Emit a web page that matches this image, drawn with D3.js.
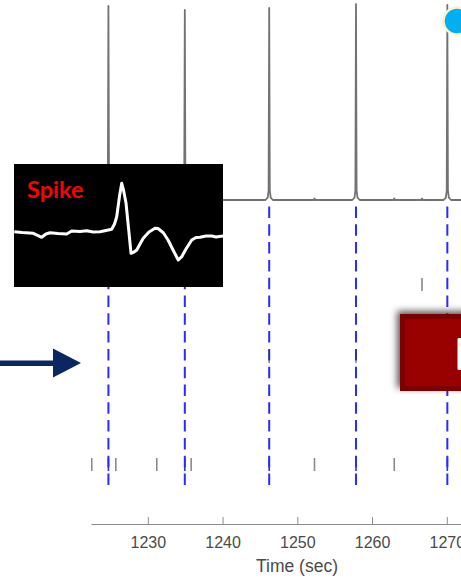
<!DOCTYPE html>
<html>
<head>
<meta charset="utf-8">
<script src="https://cdn.jsdelivr.net/npm/d3@7"></script>
<style>
  body { margin: 0; background: #fff; }
  svg { display: block; }
</style>
</head>
<body>
<svg id="chart"></svg>
<script>
var width = 461, height = 579;

// spike times (sec) and the recorded trace as [time, normalised amplitude]
var spikeTimes = [1224.73, 1234.95, 1246.24, 1257.85, 1270.07];
var trace = [
  [1222.4, 0],
  [1224.23, 0], [1224.53, 0.012], [1224.65, 0.05], [1224.73, 0.995], [1224.81, 0.05], [1224.93, 0.012], [1225.23, 0],
  [1234.45, 0], [1234.75, 0.012], [1234.87, 0.05], [1234.95, 0.975], [1235.03, 0.05], [1235.15, 0.012], [1235.45, 0],
  [1245.74, 0], [1246.04, 0.012], [1246.16, 0.05], [1246.24, 0.985], [1246.32, 0.05], [1246.44, 0.012], [1246.74, 0],
  [1252.2, 0], [1252.3, 0.008], [1252.4, 0],
  [1257.35, 0], [1257.65, 0.012], [1257.77, 0.05], [1257.85, 1.005], [1257.93, 0.05], [1258.05, 0.012], [1258.35, 0],
  [1262.87, 0], [1262.97, 0.008], [1263.07, 0],
  [1266.58, 0], [1266.68, 0.008], [1266.78, 0],
  [1269.57, 0], [1269.87, 0.012], [1269.99, 0.05], [1270.07, 1.0], [1270.15, 0.05], [1270.27, 0.012], [1270.57, 0],
  [1280, 0]
];

// raster rows and the events in each
var rasterRows = [1, 2, 3, 4, 5, 6];
var row1Events = [1266.68];
var row3Events = [1246.24, 1257.85];
var row6Events = [1222.5, 1225.72, 1231.2, 1235.8, 1252.3, 1262.97];

// x axis ticks
var xTicks = [1230, 1240, 1250, 1260, 1270];

// inset spike waveform (ms, uV)
var waveT = [0, 0.074, 0.182, 0.262, 0.303, 0.342, 0.418, 0.501, 0.549, 0.629, 0.693, 0.753, 0.82, 0.878,
  0.932, 0.959, 0.98, 1.007, 1.028, 1.045, 1.069, 1.093, 1.117, 1.146, 1.172, 1.203, 1.234, 1.289, 1.347,
  1.375, 1.426, 1.471, 1.519, 1.569, 1.602, 1.643, 1.698, 1.739, 1.777, 1.834, 1.889, 1.931, 1.959, 2.0];
var waveV = [0.6, -1, -2.6, -10.6, -4, -1.4, -3, -4, 2, 1, 2.6, 0, 0.6, 3,
  5.4, 16, 30.6, 72, 97.4, 84, 58, 8, -42.6, -40, -36, -24, -12.6, 0, 7.4,
  7, -1.4, -16, -36, -56, -49.4, -34, -16, -11, -10.6, -8, -8, -10, -9, -8];

var svg = d3.select("#chart")
  .attr("width", width)
  .attr("height", height);

var defs = svg.append("defs");
defs.append("clipPath").attr("id", "plotclip")
  .append("rect").attr("x", 91).attr("y", 0).attr("width", 400).attr("height", 530);
var shadow = defs.append("filter").attr("id", "shadow")
  .attr("x", "-20%").attr("y", "-20%").attr("width", "140%").attr("height", "140%");
shadow.append("feDropShadow")
  .attr("dx", -3).attr("dy", -3).attr("stdDeviation", 3.5)
  .attr("flood-color", "#000").attr("flood-opacity", 0.65);

// scales
var x = d3.scaleLinear().domain([1222.4, 1280]).range([91, 91 + 57.6 * 7.475]);
var y = d3.scaleLinear().domain([0, 1]).range([200, 5]);
var rowY = d3.scalePoint().domain(rasterRows).range([284.5, 464.5]);

var plot = svg.append("g").attr("clip-path", "url(#plotclip)");

// trace
var line = d3.line()
  .x(function (d) { return x(d[0]); })
  .y(function (d) { return y(d[1]); });

plot.append("path")
  .datum(trace)
  .attr("d", line)
  .attr("fill", "none")
  .attr("stroke", "#727272")
  .attr("stroke-width", 1.8)
  .attr("stroke-linejoin", "round");

// dashed spike markers
plot.selectAll(".spikeline")
  .data(spikeTimes)
  .enter()
  .append("line")
  .attr("class", "spikeline")
  .attr("x1", function (d) { return x(d); })
  .attr("x2", function (d) { return x(d); })
  .attr("y1", 206.5)
  .attr("y2", 488)
  .attr("stroke", "#2b2bff")
  .attr("stroke-width", 2)
  .attr("stroke-dasharray", "11.5,6.3");

// raster ticks
function drawTicks(times, row, color, opacity) {
  plot.selectAll(null)
    .data(times)
    .enter()
    .append("line")
    .attr("x1", function (d) { return x(d); })
    .attr("x2", function (d) { return x(d); })
    .attr("y1", rowY(row) - 6.5)
    .attr("y2", rowY(row) + 6.5)
    .attr("stroke", color)
    .attr("stroke-opacity", opacity)
    .attr("stroke-width", 1.6);
}
drawTicks(row1Events, 1, "#8a8a8a", 1);
drawTicks(row3Events, 3, "#333333", 0.55);
drawTicks(row6Events, 6, "#8a8a8a", 1);
drawTicks(spikeTimes, 6, "#2b2bff", 1);

// x axis
var xAxis = d3.axisBottom(x)
  .tickValues(xTicks)
  .tickSizeInner(-7)
  .tickSizeOuter(0)
  .tickPadding(13)
  .tickFormat(d3.format("d"));

var gx = svg.append("g")
  .attr("transform", "translate(0,524)")
  .call(xAxis);
gx.select(".domain").attr("stroke", "#8c8c8c");
gx.selectAll(".tick line").attr("stroke", "#8c8c8c");
gx.selectAll(".tick text")
  .attr("fill", "#4a4a4a")
  .style("font-family", "'Liberation Sans', Arial, sans-serif")
  .style("font-size", "16px");

svg.append("text")
  .attr("x", 297)
  .attr("y", 572)
  .attr("text-anchor", "middle")
  .attr("fill", "#4a4a4a")
  .style("font-family", "'Liberation Sans', Arial, sans-serif")
  .style("font-size", "17.5px")
  .text("Time (sec)");

// spike inset
var inset = svg.append("g");
inset.append("rect")
  .attr("x", 14).attr("y", 164)
  .attr("width", 209).attr("height", 123)
  .attr("fill", "#000");

var wx = d3.scaleLinear().domain([0, 2]).range([14.3, 223.3]);
var wy = d3.scaleLinear().domain([-60, 100]).range([262, 182]);
var waveLine = d3.line()
  .x(function (d, i) { return wx(waveT[i]); })
  .y(function (d) { return wy(d); });

inset.append("path")
  .datum(waveV)
  .attr("d", waveLine)
  .attr("fill", "none")
  .attr("stroke", "#fff")
  .attr("stroke-width", 3)
  .attr("stroke-linejoin", "round");

inset.append("text")
  .attr("x", 27)
  .attr("y", 198)
  .attr("fill", "#ff0000")
  .style("font-family", "Lato, 'Open Sans', sans-serif")
  .style("font-weight", "bold")
  .style("font-size", "23.5px")
  .text("Spike");

// arrow
svg.append("rect")
  .attr("x", 0).attr("y", 360.5)
  .attr("width", 54).attr("height", 5.5)
  .attr("fill", "#0b2761");
svg.append("path")
  .attr("d", "M53,348.5 L81,363 L53,377.5 Z")
  .attr("fill", "#0b2761");

// red box (cropped)
var box = svg.append("g").attr("filter", "url(#shadow)");
box.append("rect")
  .attr("x", 400).attr("y", 314)
  .attr("width", 80).attr("height", 77)
  .attr("fill", "#7d0000");
box.append("rect")
  .attr("x", 405).attr("y", 319)
  .attr("width", 80).attr("height", 67)
  .attr("fill", "#990000");
svg.append("rect")
  .attr("x", 457.5).attr("y", 338)
  .attr("width", 10).attr("height", 32)
  .attr("rx", 1.5)
  .attr("fill", "#fff");

// blue circle
svg.append("circle")
  .attr("cx", 457).attr("cy", 21)
  .attr("r", 13.5)
  .attr("fill", "#00b0f0")
  .attr("stroke", "#fff2cc")
  .attr("stroke-width", 2.5);
</script>
</body>
</html>
